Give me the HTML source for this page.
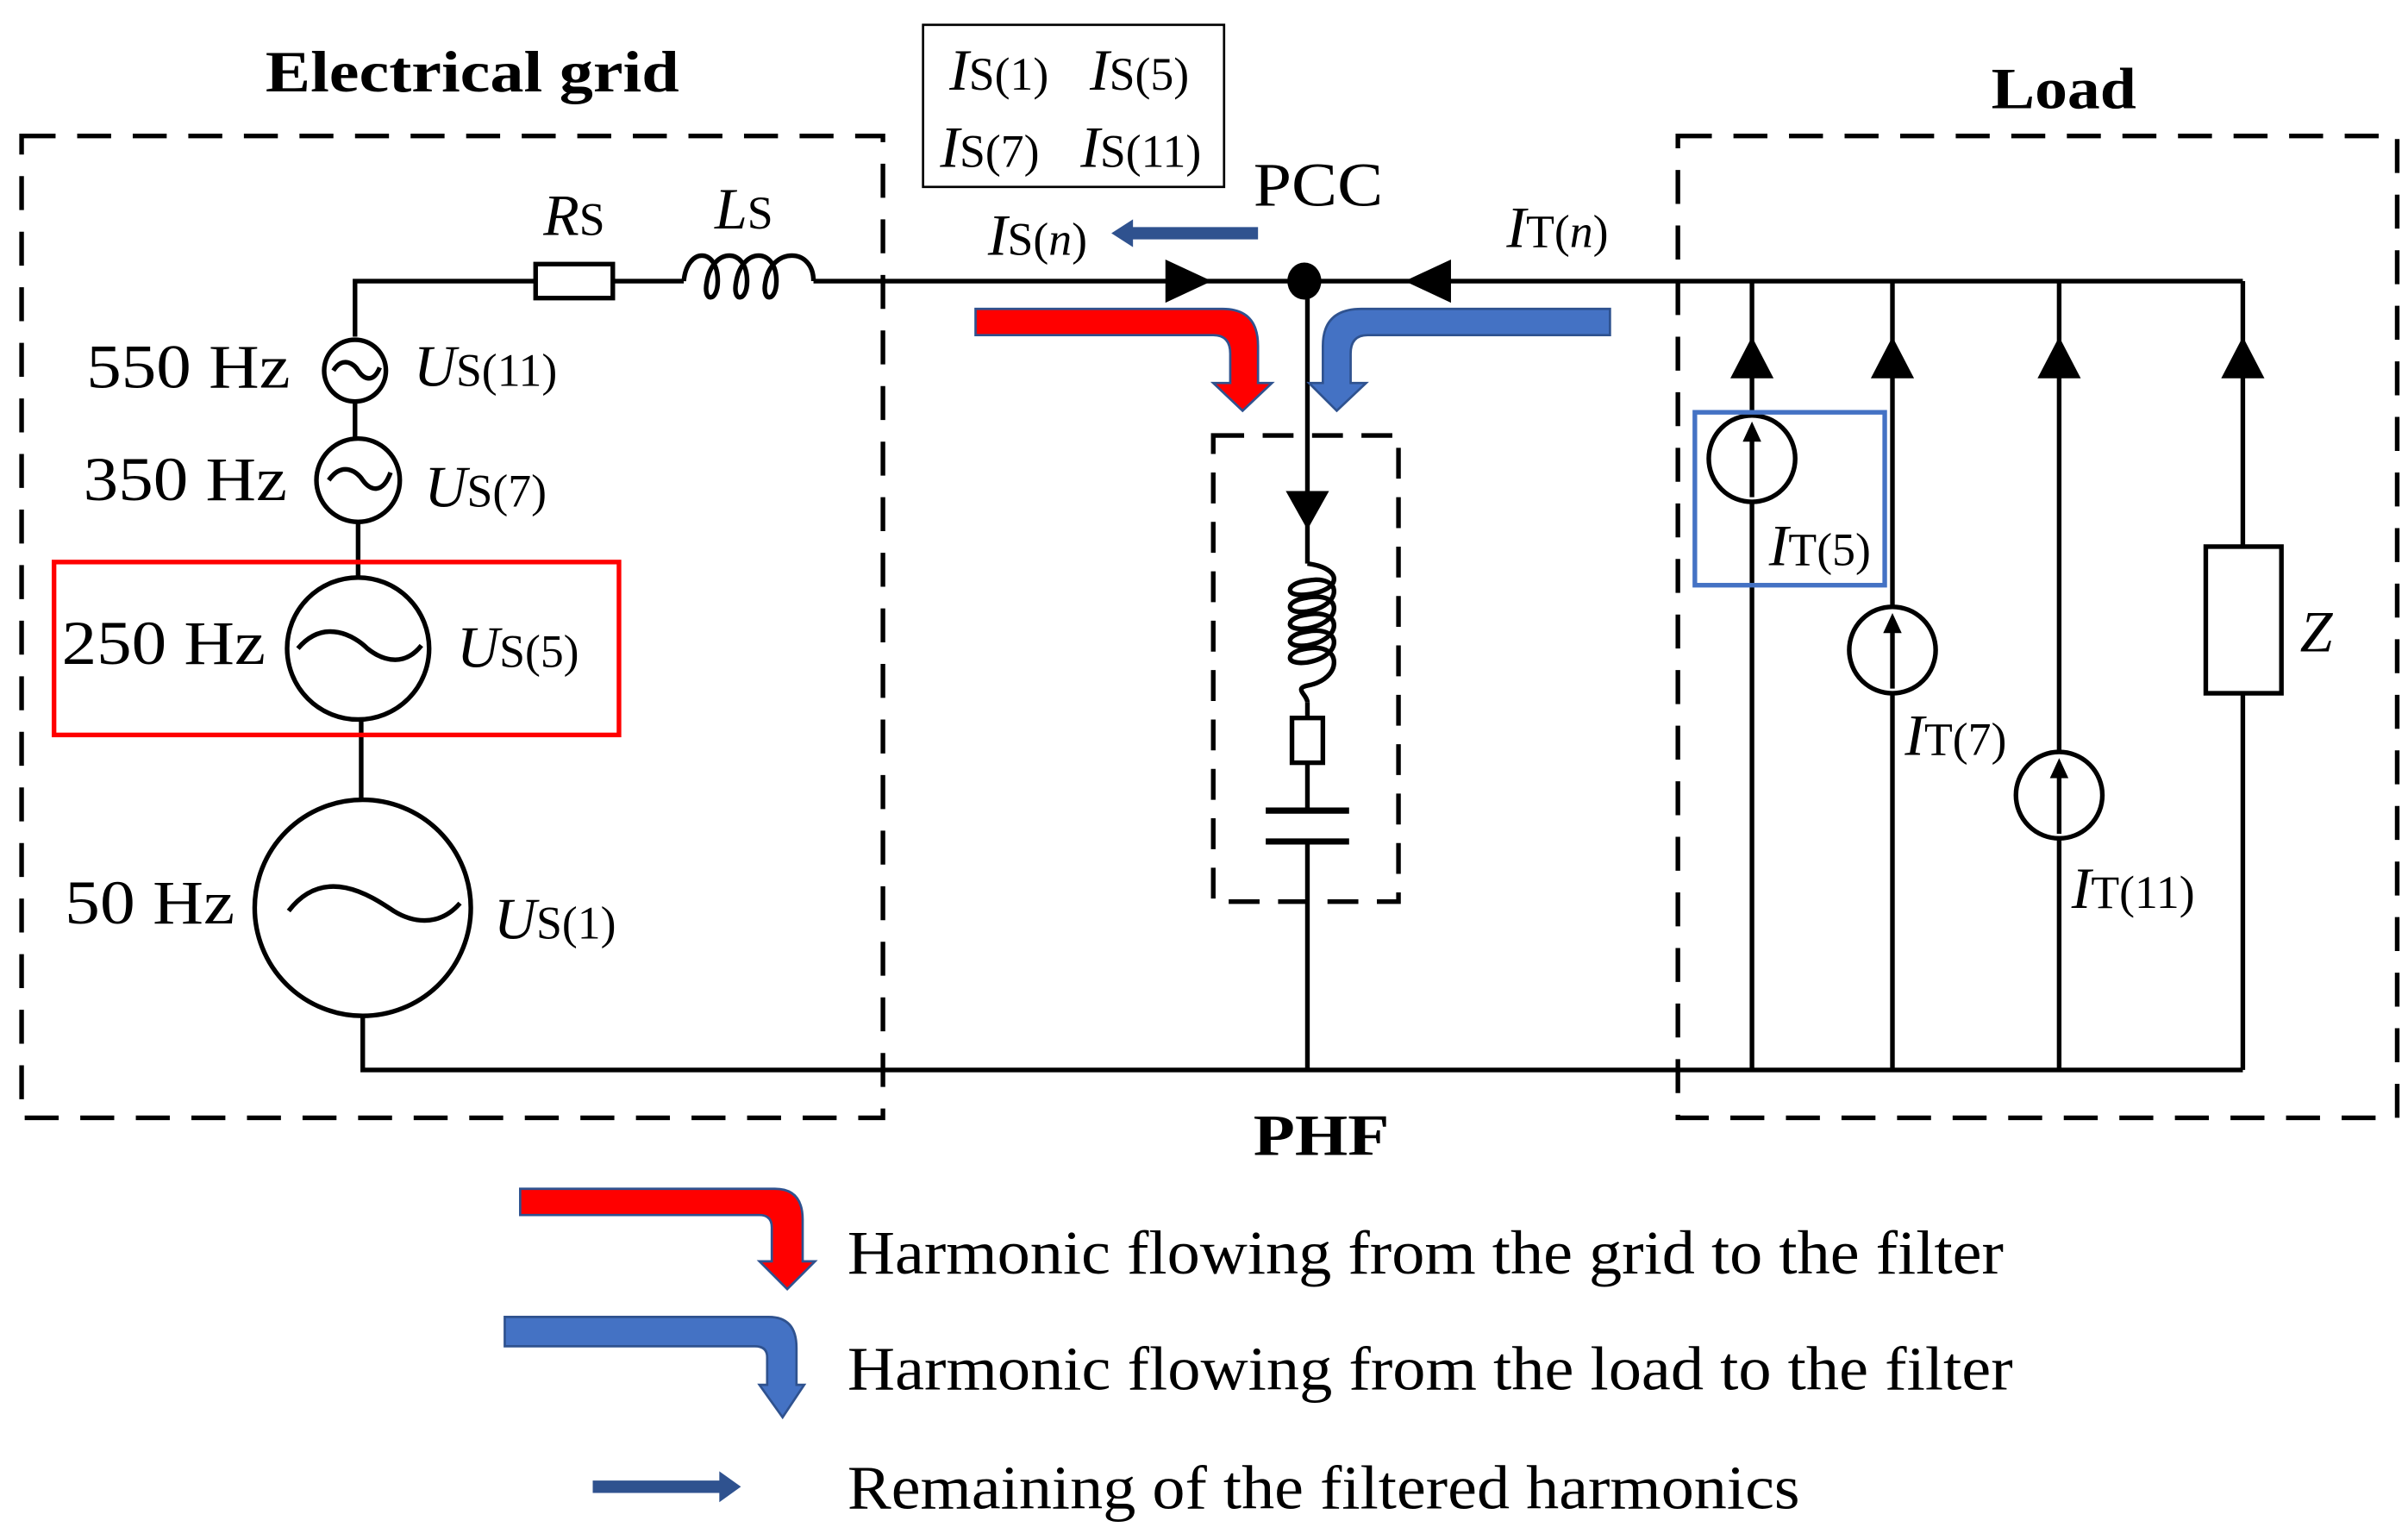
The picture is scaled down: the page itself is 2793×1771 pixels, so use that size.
<!DOCTYPE html>
<html><head><meta charset="utf-8"><style>
html,body{margin:0;padding:0;background:#fff}
svg{display:block}
text{font-family:"Liberation Serif",serif;fill:#000}
.b{font-weight:bold}
.i{font-style:italic}
</style></head><body>
<svg width="2793" height="1771" viewBox="0 0 1560 989" xmlns="http://www.w3.org/2000/svg">
<g fill="none" stroke="#000" stroke-width="3">
<!-- dashed boxes -->
<rect x="14" y="88" width="558" height="636" stroke-dasharray="22,14"/>
<rect x="1087" y="88" width="466" height="636" stroke-dasharray="22,14"/>
<rect x="786" y="282" width="120" height="302" stroke-dasharray="20,12"/>
<!-- wires -->
<polyline points="230,218 230,182 347,182"/>
<line x1="397" y1="182" x2="443" y2="182"/>
<line x1="527" y1="182" x2="1453" y2="182"/>
<polyline points="230,260 230,284"/>
<polyline points="232,338 232,374"/>
<polyline points="234,466 234,518"/>
<polyline points="235,658 235,693 1453,693"/>
<rect x="347" y="171" width="50" height="22"/>
<path d="M443,182 C445,160 465,160 465,182 C465,196 455,196 458,182 C462,160 484,160 484,182 C484,196 474,196 477,182 C481,160 503,160 503,182 C503,196 493,196 496,182 C500,160 527,160 527,182"/>
<!-- sources -->
<circle cx="230" cy="240" r="20"/>
<circle cx="232" cy="311" r="27"/>
<circle cx="232" cy="420" r="46"/>
<circle cx="235" cy="588" r="70"/>
<path d="M216,240 C222,230 230,236 232,240 C236,246 242,248 246,238"/>
<path d="M213,311 C222,298 232,306 235,311 C240,318 248,320 253,306"/>
<path d="M193,420 C210,400 230,412 238,420 C248,428 262,432 273,418"/>
<path d="M187,590 C210,560 240,580 255,590 C268,598 285,600 298,585"/>
<!-- PHF branch -->
<line x1="847" y1="182" x2="847" y2="365"/>
<path d="M847,365 C870,368 870,382 847,385 C832,387 832,378 847,376 C870,372 870,392 847,396 C832,398 832,389 847,387 C870,383 870,403 847,407 C832,409 832,400 847,398 C870,394 870,414 847,418 C832,420 832,411 847,409 C870,405 870,425 847,429 C832,431 832,422 847,420 C870,416 870,440 847,444 C838,446 847,450 847,455"/>
<line x1="847" y1="455" x2="847" y2="465"/>
<rect x="837" y="465" width="20" height="29"/>
<line x1="847" y1="494" x2="847" y2="525"/>
<line x1="820" y1="525" x2="874" y2="525" stroke-width="4"/>
<line x1="820" y1="545" x2="874" y2="545" stroke-width="4"/>
<line x1="847" y1="545" x2="847" y2="693"/>
<!-- load branches -->
<line x1="1135" y1="182" x2="1135" y2="693"/>
<line x1="1226" y1="182" x2="1226" y2="693"/>
<line x1="1334" y1="182" x2="1334" y2="693"/>
<line x1="1453" y1="182" x2="1453" y2="354"/>
<line x1="1453" y1="449" x2="1453" y2="693"/>
<rect x="1429" y="354" width="49" height="95"/>
<circle cx="1135" cy="297" r="28" fill="#fff"/>
<circle cx="1226" cy="421" r="28" fill="#fff"/>
<circle cx="1334" cy="515" r="28" fill="#fff"/>
<line x1="1135" y1="322" x2="1135" y2="285"/>
<line x1="1226" y1="446" x2="1226" y2="409"/>
<line x1="1334" y1="540" x2="1334" y2="503"/>
</g>
<g fill="#000">
<path d="M1135,273 l-6,13 h12z"/><path d="M1226,397 l-6,13 h12z"/><path d="M1334,491 l-6,13 h12z"/>
<path d="M1135,218 l-14,27 h28z"/><path d="M1226,218 l-14,27 h28z"/><path d="M1334,218 l-14,27 h28z"/><path d="M1453,218 l-14,27 h28z"/>
<path d="M755,168 l30,14 l-30,14z"/>
<path d="M940,168 l-30,14 l30,14z"/>
<ellipse cx="845" cy="182" rx="11" ry="12"/>
<path d="M833,318 h28 l-14,25z"/>
</g>
<!-- coloured boxes -->
<rect x="35" y="364" width="366" height="112" fill="none" stroke="#f00" stroke-width="3"/>
<rect x="1098" y="267" width="123" height="112" fill="none" stroke="#4472c4" stroke-width="3"/>
<rect x="598" y="16" width="195" height="105" fill="none" stroke="#000" stroke-width="1.5"/>
<!-- flow arrows -->
<path d="M632,200 H792 Q815,200 815,224 V248 H824 L805,266 L786,248 H797 V229 Q797,217 786,217 H632 Z" fill="#f00" stroke="#2f528f" stroke-width="1.5"/>
<path d="M1043,200 H882 Q857,200 857,224 V248 H848 L866,266 L885,248 H875 V229 Q875,217 886,217 H1043 Z" fill="#4472c4" stroke="#2f528f" stroke-width="1.5"/>
<path d="M815,147 H734 V142 L720,151 L734,160 V155 H815 Z" fill="#2f528f"/>
<!-- legend arrows -->
<path d="M337,770 H502 Q520,770 520,790 V817 H528 L510,835 L492,817 H500 V795 Q500,787 492,787 H337 Z" fill="#f00" stroke="#2f528f" stroke-width="1.5"/>
<path d="M327,853 H498 Q516,853 516,873 V897 H521 L507,918 L492,897 H497 V879 Q497,872 489,872 H327 Z" fill="#4472c4" stroke="#2f528f" stroke-width="1.5"/>
<path d="M384,959 H466 V953 L480,963 L466,973 V967 H384 Z" fill="#2f528f"/>
<!-- text -->
<text class="b" x="172" y="59" font-size="38" textLength="268" lengthAdjust="spacingAndGlyphs">Electrical grid</text>
<text class="b" x="1290" y="70" font-size="38" textLength="94" lengthAdjust="spacingAndGlyphs">Load</text>
<text class="b" x="812" y="748" font-size="38" textLength="88" lengthAdjust="spacingAndGlyphs">PHF</text>
<text x="812" y="133" font-size="40" textLength="84" lengthAdjust="spacingAndGlyphs">PCC</text>
<g font-size="40">
<text x="56" y="251" textLength="132" lengthAdjust="spacingAndGlyphs">550 Hz</text>
<text x="54" y="324" textLength="132" lengthAdjust="spacingAndGlyphs">350 Hz</text>
<text x="40" y="430" textLength="132" lengthAdjust="spacingAndGlyphs">250 Hz</text>
<text x="42" y="598" textLength="110" lengthAdjust="spacingAndGlyphs">50 Hz</text>
</g>
<g font-size="38">
<text x="268" y="250"><tspan class="i">U</tspan><tspan font-size="30">S(11)</tspan></text>
<text x="275" y="328"><tspan class="i">U</tspan><tspan font-size="30">S(7)</tspan></text>
<text x="296" y="432"><tspan class="i">U</tspan><tspan font-size="30">S(5)</tspan></text>
<text x="320" y="608"><tspan class="i">U</tspan><tspan font-size="30">S(1)</tspan></text>
<text x="352" y="152"><tspan class="i">R</tspan><tspan font-size="30">S</tspan></text>
<text x="463" y="148"><tspan class="i">L</tspan><tspan font-size="30">S</tspan></text>
<text x="615" y="58"><tspan class="i">I</tspan><tspan font-size="30">S(1)</tspan></text>
<text x="706" y="58"><tspan class="i">I</tspan><tspan font-size="30">S(5)</tspan></text>
<text x="609" y="108"><tspan class="i">I</tspan><tspan font-size="30">S(7)</tspan></text>
<text x="700" y="108"><tspan class="i">I</tspan><tspan font-size="30">S(11)</tspan></text>
<text x="640" y="165"><tspan class="i">I</tspan><tspan font-size="30">S(</tspan><tspan font-size="30" class="i">n</tspan><tspan font-size="30">)</tspan></text>
<text x="976" y="160"><tspan class="i">I</tspan><tspan font-size="30">T(</tspan><tspan font-size="30" class="i">n</tspan><tspan font-size="30">)</tspan></text>
<text x="1146" y="366"><tspan class="i">I</tspan><tspan font-size="30">T(5)</tspan></text>
<text x="1234" y="489"><tspan class="i">I</tspan><tspan font-size="30">T(7)</tspan></text>
<text x="1342" y="588"><tspan class="i">I</tspan><tspan font-size="30">T(11)</tspan></text>
<text x="1490" y="422" class="i">Z</text>
</g>
<g font-size="40">
<text x="549" y="825" textLength="749" lengthAdjust="spacingAndGlyphs">Harmonic flowing from the grid to the filter</text>
<text x="549" y="900" textLength="755" lengthAdjust="spacingAndGlyphs">Harmonic flowing from the load to the filter</text>
<text x="549" y="977" textLength="617" lengthAdjust="spacingAndGlyphs">Remaining of the filtered harmonics</text>
</g>
</svg>
</body></html>
